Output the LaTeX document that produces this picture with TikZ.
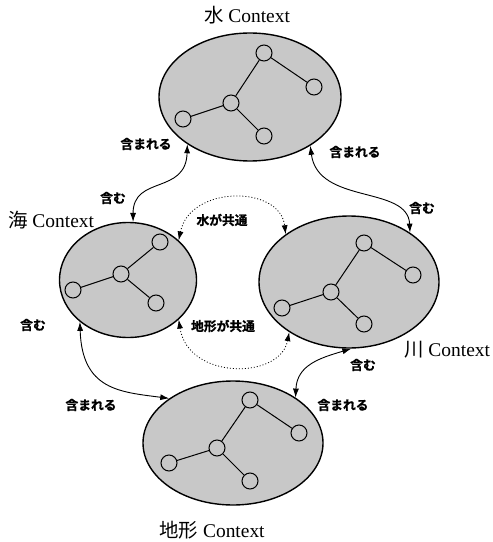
\documentclass[tikz,border=0pt]{standalone}
\usepackage{fontspec}
\setmainfont{Liberation Serif}
\newfontfamily\jp[BoldFont={Noto Sans CJK JP Bold},BoldFeatures={FakeBold=1.2}]{Noto Sans CJK JP}
\usetikzlibrary{shapes.geometric,arrows.meta}
\definecolor{cfill}{RGB}{200,200,200}
\begin{document}
\begin{tikzpicture}[x=1bp,y=-1bp,
  ctx/.style={ellipse, draw, line width=1.4bp, fill=cfill, inner sep=0pt},
  dot/.style={circle, draw, line width=1bp, fill=cfill, minimum size=16bp, inner sep=0pt},
  tree/.style={line width=1bp},
  rel/.style={line width=0.9bp, {Latex[length=9bp,width=6bp]}-{Latex[length=9bp,width=6bp]}},
  share/.style={rel, dash pattern=on 1bp off 2bp, line width=0.8bp},
  lab/.style={font=\jp\bfseries\fontsize{12.8}{13}\selectfont, inner sep=0pt},
  title/.style={font=\fontsize{19.5}{20}\selectfont, inner sep=0pt}]
\path[fill=white] (0,0) rectangle (493,542);
\useasboundingbox (0,0) rectangle (493,542);

% context ellipses
\node[ctx, minimum width=182bp, minimum height=128bp] (w) at (250,97) {};
\node[ctx, minimum width=137bp, minimum height=115bp] (s) at (128,280) {};
\node[ctx, minimum width=180bp, minimum height=132bp] (r) at (349,282) {};
\node[ctx, minimum width=180bp, minimum height=124bp] (e) at (233,443) {};

% tree in water
\node[dot] (w1) at (264,53) {};
\node[dot] (w2) at (314,87) {};
\node[dot] (w3) at (231,103) {};
\node[dot] (w4) at (183,119) {};
\node[dot] (w5) at (264,136) {};
\draw[tree] (w1) -- (w2) (w1) -- (w3) (w3) -- (w4) (w3) -- (w5);

% tree in sea
\node[dot] (s1) at (160,242) {};
\node[dot] (s2) at (121,274) {};
\node[dot] (s3) at (73,290) {};
\node[dot] (s4) at (156,303) {};
\draw[tree] (s1) -- (s2) (s2) -- (s3) (s2) -- (s4);

% tree in river
\node[dot] (r1) at (364,243) {};
\node[dot] (r2) at (413,275) {};
\node[dot] (r3) at (331,292) {};
\node[dot] (r4) at (282,308) {};
\node[dot] (r5) at (364,324) {};
\draw[tree] (r1) -- (r2) (r1) -- (r3) (r3) -- (r4) (r3) -- (r5);

% tree in terrain
\node[dot] (e1) at (250,400) {};
\node[dot] (e2) at (299,433) {};
\node[dot] (e3) at (217,448) {};
\node[dot] (e4) at (169,463) {};
\node[dot] (e5) at (250,481) {};
\draw[tree] (e1) -- (e2) (e1) -- (e3) (e3) -- (e4) (e3) -- (e5);

% connectors
\draw[rel] (w.217) .. controls (186,195) and (133,175) .. (s.85);
\draw[rel] (w.321) .. controls (318,205) and (408,185) .. (r.39);
\draw[share] (s.38) .. controls (190,185) and (280,185) .. (r.143);
\draw[share] (s.322) .. controls (188,380) and (280,380) .. (r.220);
\draw[rel] (s.221) .. controls (82,390) and (120,392) .. (e.145);
\draw[rel] (r.272) .. controls (320,358) and (297,365) .. (e.36);

% titles
\node[title] (tw) at (247,15) {{\jp 水} Context};
\node[title, anchor=west] (ts) at (8,220) {{\jp 海} Context};
\node[title, anchor=west] (tr) at (404,350) {{\jp 川} Context};
\node[title] (te) at (212,530) {{\jp 地形} Context};

% relation labels
\node[lab] (l1) at (146,144) {含まれる};
\node[lab] (l2) at (113,198) {含む};
\node[lab] (l3) at (355,152) {含まれる};
\node[lab] (l4) at (422,208) {含む};
\node[lab] (l5) at (222,220) {水が共通};
\node[lab] (l6) at (223,326) {地形が共通};
\node[lab] (l7) at (33,325) {含む};
\node[lab] (l8) at (91,405) {含まれる};
\node[lab] (l9) at (363,365) {含む};
\node[lab] (l10) at (343,405) {含まれる};
\end{tikzpicture}
\end{document}
